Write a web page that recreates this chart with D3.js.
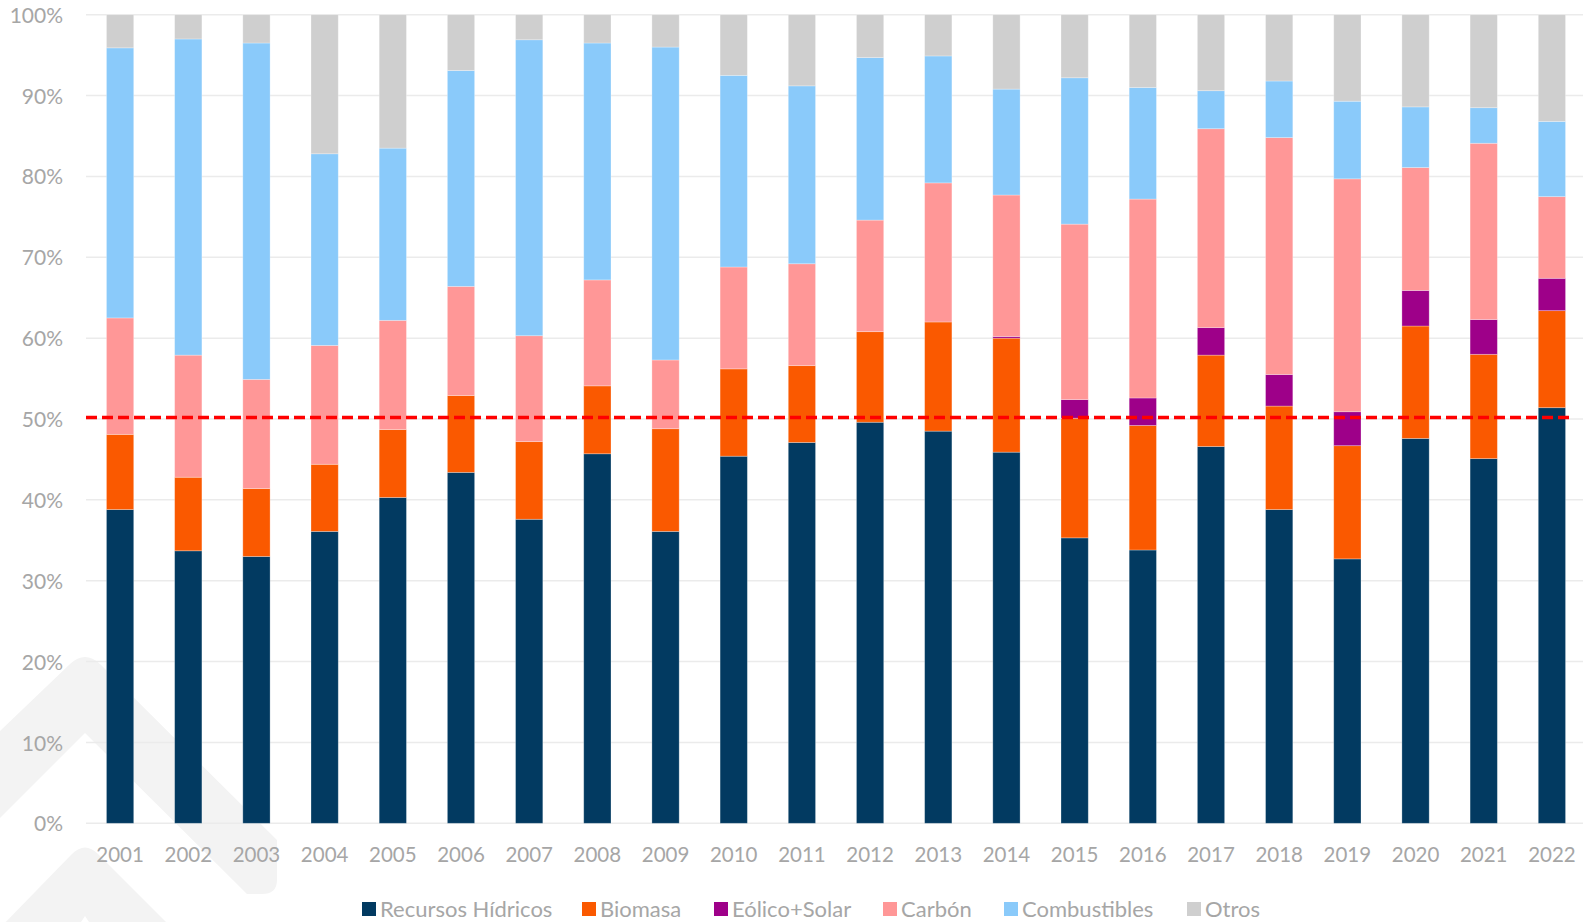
<html>
<head>
<meta charset="utf-8">
<title>Generación por fuente</title>
<style>
  body { margin: 0; background: #fff; }
  text { font-family: Lato, "Noto Sans", sans-serif; fill: #a6a6a6; }
</style>
</head>
<body>
<div id="viz"></div>
<script src="https://d3js.org/d3.v7.min.js"></script>
<script>

var years = ['2001','2002','2003','2004','2005','2006','2007','2008','2009','2010','2011',
             '2012','2013','2014','2015','2016','2017','2018','2019','2020','2021','2022'];

// % de participación por fuente
var hidricos     = [38.8,33.7,33.0,36.1,40.3,43.4,37.6,45.7,36.1,45.4,47.1,49.6,48.5,45.9,35.3,33.8,46.6,38.8,32.7,47.6,45.1,51.4];
var biomasa      = [9.3,9.1,8.4,8.3,8.4,9.5,9.6,8.4,12.7,10.8,9.5,11.2,13.5,14.1,14.8,15.4,11.3,12.8,14.0,13.9,12.9,12.0];
var eolicoSolar  = [0,0,0,0,0,0,0,0,0,0,0,0,0,0.2,2.3,3.4,3.4,3.9,4.2,4.4,4.3,4.0];
var carbon       = [14.4,15.1,13.5,14.7,13.5,13.5,13.1,13.1,8.5,12.6,12.6,13.8,17.2,17.5,21.7,24.6,24.6,29.3,28.8,15.2,21.8,10.1];
var combustibles = [33.4,39.1,41.6,23.7,21.3,26.7,36.6,29.3,38.7,23.7,22.0,20.1,15.7,13.1,18.1,13.8,4.7,7.0,9.6,7.5,4.4,9.3];
var otros        = [4.1,3.0,3.5,17.2,16.5,6.9,3.1,3.5,4.0,7.5,8.8,5.3,5.1,9.2,7.8,9.0,9.4,8.2,10.7,11.4,11.5,13.2];

var seriesNames = ['Recursos Hídricos','Biomasa','Eólico+Solar','Carbón','Combustibles','Otros'];
var colors = ['#023a61','#fa5900','#9e0089','#ff9797','#8acafa','#cfcfcf'];
var yTicks = [0,10,20,30,40,50,60,70,80,90,100];
var refLine = 50.2;

var width = 1583, height = 922;
var plotLeft = 86, plotRight = 1586, plotTop = 14.7, plotBottom = 823.3;

var svg = d3.select('#viz').append('svg')
    .attr('width', width)
    .attr('height', height);

// marca de agua
var wm = svg.append('g').attr('fill', '#f3f3f3');
wm.append('path').attr('d', 'M0,731 L70,664 Q85,650 100,664 L277,840 L277,880 Q277,894 262,894 L247,894 L85,733 L0,818 Z');
wm.append('path').attr('d', 'M0,928 L72,854 Q85,841 98,854 L172,928 L93,928 L85,916 L77,928 Z');

var table = years.map(function (y, i) {
    return {
        year: y,
        'Recursos Hídricos': hidricos[i],
        'Biomasa': biomasa[i],
        'Eólico+Solar': eolicoSolar[i],
        'Carbón': carbon[i],
        'Combustibles': combustibles[i],
        'Otros': otros[i]
    };
});

var x = d3.scaleBand()
    .domain(years)
    .range([plotLeft, plotRight])
    .paddingInner(0.6)
    .paddingOuter(0.3);

var y = d3.scaleLinear()
    .domain([0, 100])
    .range([plotBottom, plotTop]);

var color = d3.scaleOrdinal().domain(seriesNames).range(colors);

// rejilla
svg.append('g')
    .selectAll('line')
    .data(yTicks)
    .enter()
    .append('line')
    .attr('x1', plotLeft)
    .attr('x2', width)
    .attr('y1', function (d) { return y(d); })
    .attr('y2', function (d) { return y(d); })
    .attr('stroke', '#ebebeb')
    .attr('stroke-width', 1.5);

var yAxis = svg.append('g')
    .attr('transform', 'translate(' + (plotLeft - 23) + ',0)')
    .call(d3.axisLeft(y).tickValues(yTicks).tickSize(0).tickPadding(0).tickFormat(function (d) { return d + '%'; }));
yAxis.select('.domain').remove();
yAxis.selectAll('text')
    .attr('font-size', 21)
    .attr('dy', '0.36em')
    .style('font-family', 'Lato, sans-serif')
    .style('fill', '#a6a6a6');

var stacked = d3.stack().keys(seriesNames)(table);

svg.append('g')
    .selectAll('g')
    .data(stacked)
    .enter()
    .append('g')
    .attr('fill', function (d) { return color(d.key); })
    .selectAll('rect')
    .data(function (d) { return d; })
    .enter()
    .append('rect')
    .attr('x', function (d) { return x(d.data.year); })
    .attr('width', x.bandwidth())
    .attr('y', function (d) { return y(d[1]); })
    .attr('height', function (d) { return y(d[0]) - y(d[1]); })
    .attr('stroke', '#ffffff')
    .attr('stroke-opacity', 0.35)
    .attr('stroke-width', 0.8);

var xAxis = svg.append('g')
    .attr('transform', 'translate(0,' + plotBottom + ')')
    .call(d3.axisBottom(x).tickSize(0));
xAxis.select('.domain').remove();
xAxis.selectAll('text')
    .attr('font-size', 20.5)
    .attr('y', 24)
    .attr('dy', '0.71em')
    .style('font-family', 'Lato, sans-serif')
    .style('fill', '#a6a6a6');

// línea de referencia 50%
svg.append('line')
    .attr('x1', plotLeft)
    .attr('x2', 1570)
    .attr('y1', y(refLine))
    .attr('y2', y(refLine))
    .attr('stroke', '#ff0000')
    .attr('stroke-width', 3.5)
    .attr('stroke-dasharray', '11,5');

// leyenda
var legendX = [362, 582, 714, 883, 1004, 1187];
var legend = svg.append('g')
    .selectAll('g')
    .data(seriesNames)
    .enter()
    .append('g')
    .attr('transform', function (d, i) { return 'translate(' + legendX[i] + ',902)'; });

legend.append('rect')
    .attr('width', 14)
    .attr('height', 14)
    .attr('fill', function (d) { return color(d); });

legend.append('text')
    .attr('x', 18)
    .attr('y', 14.5)
    .attr('font-size', 22)
    .text(function (d) { return d; });

</script>
</body>
</html>
